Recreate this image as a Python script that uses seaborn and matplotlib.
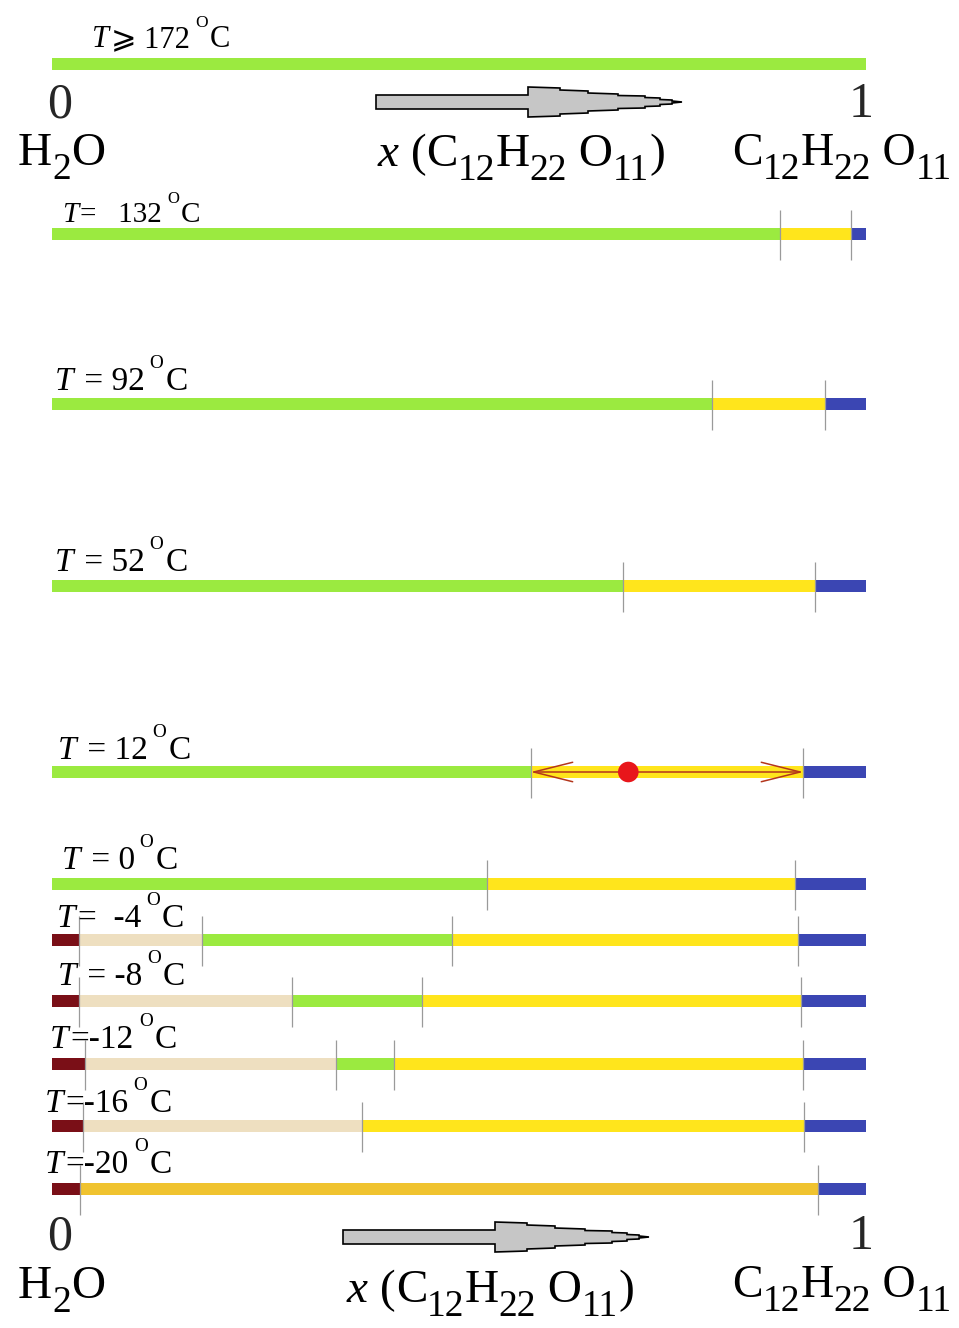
import matplotlib
matplotlib.use("Agg")
import matplotlib.pyplot as plt
from matplotlib.patches import Polygon
from matplotlib.transforms import IdentityTransform
import seaborn as sns

# Isothermal sections of the water - sucrose system, composition x(C12H22O11) from 0 to 1
temps = [172, 132, 92, 52, 12, 0, -4, -8, -12, -16, -20]
temp_relations = ["\u2a7e 172", "=   132", " = 92", " = 52", " = 12", " = 0", "=  -4", " = -8", "=-12", "=-16", "=-20"]

# phase boundaries along each isotherm (mole fraction of sucrose)
segment_edges = [
    [0.0, 1.0],
    [0.0, 0.894, 0.982, 1.0],
    [0.0, 0.811, 0.950, 1.0],
    [0.0, 0.701, 0.937, 1.0],
    [0.0, 0.588, 0.923, 1.0],
    [0.0, 0.534, 0.913, 1.0],
    [0.0, 0.033, 0.184, 0.491, 0.916, 1.0],
    [0.0, 0.033, 0.295, 0.455, 0.920, 1.0],
    [0.0, 0.041, 0.349, 0.420, 0.923, 1.0],
    [0.0, 0.038, 0.381, 0.924, 1.0],
    [0.0, 0.034, 0.941, 1.0],
]
segment_phases = [
    ["L"],
    ["L", "L+S", "S"],
    ["L", "L+S", "S"],
    ["L", "L+S", "S"],
    ["L", "L+S", "S"],
    ["L", "L+S", "S"],
    ["I", "I+L", "L", "L+S", "S"],
    ["I", "I+L", "L", "L+S", "S"],
    ["I", "I+L", "L", "L+S", "S"],
    ["I", "I+L", "L+S", "S"],
    ["I", "I+S", "S"],
]
phase_colors = {
    "L": "#9bea40",
    "L+S": "#ffe51c",
    "S": "#3b46b3",
    "I": "#7a0f17",
    "I+L": "#eedfc0",
    "I+S": "#f0c32f",
}

# composition point and tie line on the 12 °C isotherm
point_row = 4
point_x = 0.708
tie_line = [0.588, 0.923]

# ---------------------------------------------------------------- layout
W_PX, H_PX = 959, 1328
X0_PX, X1_PX = 52, 866            # pixel columns of x = 0 and x = 1
row_y = [64, 234, 404, 586, 772, 884, 940, 1001, 1064, 1126, 1189]
bar_h = 12
# (left, baseline, font size) of each isotherm label
label_pos = [(92, 47, 22), (62, 222, 21), (55, 390, 24), (55, 571, 24), (58, 759, 24),
             (62, 869, 24), (57, 927, 24), (58, 985, 24), (50, 1048, 24), (45, 1112, 24),
             (45, 1173, 24)]
SERIF = ["Liberation Serif", "DejaVu Serif", "DejaVu Sans"]

sns.set_theme(style="white")
plt.rcParams["font.family"] = SERIF

fig = plt.figure(figsize=(W_PX / 100, H_PX / 100), dpi=100)
ax = fig.add_axes([0, 0, 1, 1])
scale = X1_PX - X0_PX
renderer = fig.canvas.get_renderer()

# ---------------------------------------------------------------- bars
for y, edges, phases in zip(row_y, segment_edges, segment_phases):
    lefts = edges[:-1]
    widths = [b - a for a, b in zip(edges[:-1], edges[1:])]
    ax.barh([y] * len(lefts), widths, left=lefts, height=bar_h,
            color=[phase_colors[p] for p in phases], linewidth=0, zorder=2)
    inner = edges[1:-1]
    if inner:
        ax.vlines(inner, y - 24, y + 26, color="#9a9a9a", lw=0.9, zorder=3)

# tie line with the figurative point
yp = row_y[point_row]
ax.annotate("", xy=(tie_line[0], yp), xytext=(tie_line[1], yp),
            arrowprops=dict(arrowstyle="<->,head_length=1.4,head_width=0.35",
                            color="#b3361c", lw=1.1, shrinkA=0, shrinkB=0,
                            mutation_scale=20), zorder=4)
sns.scatterplot(x=[point_x], y=[yp], s=220, color="#e8161b", edgecolor="none",
                ax=ax, zorder=5, legend=False)
ax.set_xlim(-X0_PX / scale, (W_PX - X0_PX) / scale)
ax.set_ylim(H_PX, 0)
ax.axis("off")


# ---------------------------------------------------------------- text helpers
def rich_text(x, base, parts):
    """Place text pieces one after another on a common baseline (pixel coords)."""
    for s, size, style, rise, gap in parts:
        t = fig.text(x, H_PX - base + rise, s, transform=IdentityTransform(),
                     fontsize=size, fontstyle=style, family=SERIF,
                     ha="left", va="baseline", color="black")
        x += t.get_window_extent(renderer).width + gap


for rel, (lx, lb, fs) in zip(temp_relations, label_pos):
    size_px = fs * 100 / 72
    rich_text(lx, lb, [
        ("T", fs, "italic", 0, 2),
        (rel, fs, "normal", 0, 5),
        ("O", fs * 0.57, "normal", size_px * 0.66, 2),
        ("C", fs, "normal", 0, 0),
    ])


def formula_parts(size, sub, drop):
    return [("C", size, "normal", 0, 0), ("12", sub, "normal", -drop, 0),
            ("H", size, "normal", 0, 0), ("22", sub, "normal", -drop, 0),
            (" O", size, "normal", 0, 0), ("11", sub, "normal", -drop, 0)]


BIG, SUB, DROP = 34, 27, 14
for (zero_b, h2o_b, xlab_x, xlab_b, right_b) in [(118, 165, 378, 166, 165),
                                                 (1250, 1298, 347, 1302, 1297)]:
    fig.text(60, H_PX - zero_b, "0", transform=IdentityTransform(), fontsize=BIG + 2,
             family=SERIF, ha="center", va="baseline")
    fig.text(861, H_PX - zero_b + 1, "1", transform=IdentityTransform(), fontsize=BIG + 2,
             family=SERIF, ha="center", va="baseline")
    rich_text(18, h2o_b, [("H", BIG, "normal", 0, 0), ("2", SUB, "normal", -DROP, 0),
                          ("O", BIG, "normal", 0, 0)])
    rich_text(xlab_x, xlab_b, [("x", BIG, "italic", 0, 0), (" (", BIG, "normal", 0, 0)]
              + formula_parts(BIG, SUB, DROP) + [(")", BIG, "normal", 0, 0)])
    rich_text(732, right_b, formula_parts(BIG - 1, SUB, DROP))

# ---------------------------------------------------------------- direction arrows
head_profile = [(0, 15), (32, 14), (32, 12), (60, 11), (60, 9), (90, 8), (90, 6.5),
                (117, 6), (117, 4.5), (132, 4), (132, 2.5), (144, 2), (144, 1), (154, 0)]


def stepped_arrow(x0, cy, body_len=152, half=7):
    top = [(x0, cy + half), (x0 + body_len, cy + half)]
    top += [(x0 + body_len + dx, cy + hw) for dx, hw in head_profile]
    bottom = [(x0 + body_len + dx, cy - hw) for dx, hw in reversed(head_profile)]
    bottom += [(x0 + body_len, cy - half), (x0, cy - half)]
    fig.add_artist(Polygon(top + bottom, closed=True, transform=IdentityTransform(),
                           facecolor="#c6c6c6", edgecolor="black", lw=1.2))


stepped_arrow(376, H_PX - 102)
stepped_arrow(343, H_PX - 1237)

fig.savefig("out.png", dpi=100)
